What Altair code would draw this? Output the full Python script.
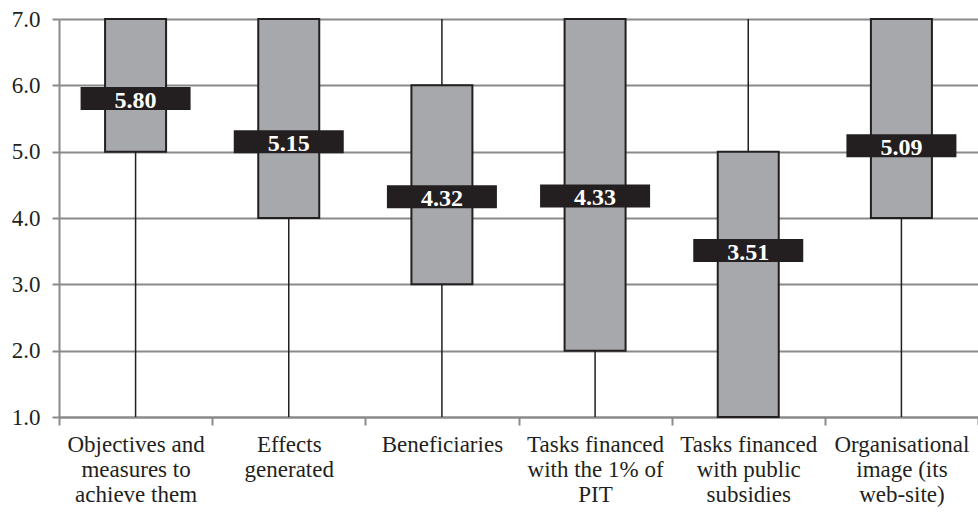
import altair as alt
import pandas as pd

categories = [
    "Objectives and|measures to|achieve them",
    "Effects|generated",
    "Beneficiaries",
    "Tasks financed|with the 1% of|PIT",
    "Tasks financed|with public|subsidies",
    "Organisational|image (its|web-site)",
]
whisker_low = [1, 1, 1, 1, 1, 1]
whisker_high = [7, 7, 7, 7, 7, 7]
box_low = [5, 4, 3, 2, 1, 4]
box_high = [7, 7, 6, 7, 5, 7]
means = [5.80, 5.15, 4.32, 4.33, 3.51, 5.09]

df = pd.DataFrame({
    "cat": categories,
    "lo": whisker_low,
    "hi": whisker_high,
    "q1": box_low,
    "q3": box_high,
    "mean": means,
})
df["label"] = df["mean"].map(lambda v: f"{v:.2f}")

FONT = "Liberation Serif"
GRID = "#8a8a8a"

x = alt.X(
    "cat:N",
    sort=None,
    title=None,
    scale=alt.Scale(paddingInner=0, paddingOuter=0),
    axis=alt.Axis(
        labelExpr="isValid(datum.value) ? split(datum.value, '|') : ''",
        labelAngle=0,
        labelFont=FONT,
        labelFontSize=23,
        labelColor="#231f20",
        labelLineHeight=25,
        labelPadding=8,
        labelLimit=400,
        labelOverlap=False,
        tickBand="extent",
        tickSize=8,
        tickColor=GRID,
        tickWidth=2,
        domainColor=GRID,
        domainWidth=2,
        grid=False,
    ),
)
y_scale = alt.Scale(domain=[1, 7], nice=False, zero=False)
y_axis = alt.Axis(
    values=[1, 2, 3, 4, 5, 6, 7],
    format=".1f",
    title=None,
    labelFont=FONT,
    labelFontSize=23,
    labelColor="#231f20",
    labelPadding=12,
    tickSize=7,
    tickColor=GRID,
    tickWidth=2,
    domainColor=GRID,
    domainWidth=2,
    gridColor=GRID,
    gridWidth=2,
)

base = alt.Chart(df)

whisk = base.mark_rule(color="#231f20", strokeWidth=1.5).encode(
    x=x,
    y=alt.Y("lo:Q", scale=y_scale, axis=y_axis),
    y2="hi:Q",
)
box = base.mark_bar(size=61, color="#a7a8ab", stroke="#231f20", strokeWidth=2).encode(
    x=x,
    y=alt.Y("q1:Q", scale=y_scale),
    y2="q3:Q",
)
mean_rect = base.mark_tick(color="#231f20", size=110, thickness=23, opacity=1).encode(
    x=x,
    y=alt.Y("mean:Q", scale=y_scale),
)
mean_text = base.mark_text(
    color="white", font=FONT, fontSize=24, fontWeight="bold", baseline="middle", dy=2
).encode(
    x=x,
    y=alt.Y("mean:Q", scale=y_scale),
    text="label:N",
)

chart = (
    alt.layer(whisk, box, mean_rect, mean_text)
    .properties(
        width=919,
        height=398,
        autosize=alt.AutoSizeParams(type="none"),
        padding={"left": 59, "top": 19, "right": 0, "bottom": 96},
        background="white",
    )
    .configure_view(stroke=None)
)

chart.save("out.html", embed_options={"renderer": "svg", "actions": False})
